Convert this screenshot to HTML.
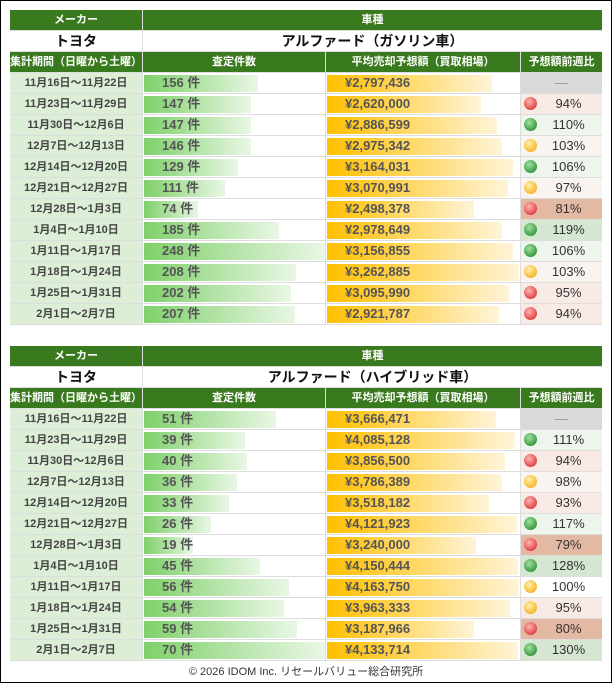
<!DOCTYPE html>
<html><head><meta charset="utf-8"><style>
*{margin:0;padding:0;box-sizing:border-box}
body{width:612px;height:683px;background:#fff;font-family:"Liberation Sans","Noto Sans CJK JP",sans-serif;position:relative;overflow:hidden}
.frame{position:absolute;left:0;top:0;width:612px;height:683px;border:1px solid #000}
.t{position:absolute;left:10px;width:592px;background:#ddd}
.r{display:grid;grid-template-columns:132px 182px 194px 81px;column-gap:1px;height:21px;margin-bottom:0;border-bottom:1px solid #ddd}
.r>div{height:20px;position:relative;font-size:12px;font-weight:bold;line-height:20px;color:#444}
.h>div{background:#3a7a1e;color:#fff;text-align:center;font-size:11px}
.h1{grid-template-columns:132px 459px}
.ti{grid-template-columns:132px 459px}
.ti>div{background:#fff;color:#111;text-align:center;font-size:14px}
.d{background:#dcefd6;text-align:center;font-size:11px!important}
.c,.p{background:#fff}
.c i{position:absolute;left:1px;top:2px;height:17px;background:linear-gradient(90deg,#7fd06a,#e9f7e5)}
.p i{position:absolute;left:1px;top:2px;height:17px;background:linear-gradient(90deg,#ffbf00,#fff4d8)}
.c span,.p span{position:relative;padding-left:19px;font-size:13px;color:#555}
.v{text-align:center;font-weight:normal!important;font-size:13px!important;color:#333!important}
.v b{position:absolute;left:3px;top:3px;width:13px;height:13px;border-radius:50%}
.v em{font-style:normal;padding-left:14px}
.R{background:radial-gradient(circle at 40% 35%,#ffb3b3,#e04848 70%,#b02c2c)}
.G{background:radial-gradient(circle at 40% 35%,#9fe0a0,#3d9c44 70%,#2a6e2f)}
.Y{background:radial-gradient(circle at 40% 35%,#fff0b0,#f7b92c 70%,#d08d10)}
.br{background:#f8ebe5}.bR{background:#e4b9a3}.by{background:#faf4f0}.bg{background:#eef5ec}.bG{background:#d5e6d1}.bw{background:#fff}.bn{background:#d9d9d9;color:#999!important}
.foot{position:absolute;top:663px;left:0;width:612px;text-align:center;font-size:11px;color:#333}
</style></head><body>
<div class="frame"></div>

<div class="t" style="top:10px">
<div class="r h h1"><div>メーカー</div><div>車種</div></div>
<div class="r ti"><div>トヨタ</div><div>アルファード（ガソリン車）</div></div>
<div class="r h"><div>集計期間（日曜から土曜）</div><div>査定件数</div><div>平均売却予想額（買取相場）</div><div>予想額前週比</div></div>
<div class="r"><div class="d">11月16日～11月22日</div><div class="c"><i style="width:114px"></i><span>156 件</span></div><div class="p"><i style="width:165px"></i><span>¥2,797,436</span></div><div class="v bn">—</div></div>
<div class="r"><div class="d">11月23日～11月29日</div><div class="c"><i style="width:107px"></i><span>147 件</span></div><div class="p"><i style="width:154px"></i><span>¥2,620,000</span></div><div class="v br"><b class="R"></b><em>94%</em></div></div>
<div class="r"><div class="d">11月30日～12月6日</div><div class="c"><i style="width:107px"></i><span>147 件</span></div><div class="p"><i style="width:170px"></i><span>¥2,886,599</span></div><div class="v bg"><b class="G"></b><em>110%</em></div></div>
<div class="r"><div class="d">12月7日～12月13日</div><div class="c"><i style="width:107px"></i><span>146 件</span></div><div class="p"><i style="width:175px"></i><span>¥2,975,342</span></div><div class="v by"><b class="Y"></b><em>103%</em></div></div>
<div class="r"><div class="d">12月14日～12月20日</div><div class="c"><i style="width:94px"></i><span>129 件</span></div><div class="p"><i style="width:186px"></i><span>¥3,164,031</span></div><div class="v bg"><b class="G"></b><em>106%</em></div></div>
<div class="r"><div class="d">12月21日～12月27日</div><div class="c"><i style="width:81px"></i><span>111 件</span></div><div class="p"><i style="width:181px"></i><span>¥3,070,991</span></div><div class="v by"><b class="Y"></b><em>97%</em></div></div>
<div class="r"><div class="d">12月28日～1月3日</div><div class="c"><i style="width:54px"></i><span>74 件</span></div><div class="p"><i style="width:147px"></i><span>¥2,498,378</span></div><div class="v bR"><b class="R"></b><em>81%</em></div></div>
<div class="r"><div class="d">1月4日～1月10日</div><div class="c"><i style="width:135px"></i><span>185 件</span></div><div class="p"><i style="width:175px"></i><span>¥2,978,649</span></div><div class="v bG"><b class="G"></b><em>119%</em></div></div>
<div class="r"><div class="d">1月11日～1月17日</div><div class="c"><i style="width:181px"></i><span>248 件</span></div><div class="p"><i style="width:186px"></i><span>¥3,156,855</span></div><div class="v bg"><b class="G"></b><em>106%</em></div></div>
<div class="r"><div class="d">1月18日～1月24日</div><div class="c"><i style="width:152px"></i><span>208 件</span></div><div class="p"><i style="width:192px"></i><span>¥3,262,885</span></div><div class="v by"><b class="Y"></b><em>103%</em></div></div>
<div class="r"><div class="d">1月25日～1月31日</div><div class="c"><i style="width:147px"></i><span>202 件</span></div><div class="p"><i style="width:182px"></i><span>¥3,095,990</span></div><div class="v br"><b class="R"></b><em>95%</em></div></div>
<div class="r"><div class="d">2月1日～2月7日</div><div class="c"><i style="width:151px"></i><span>207 件</span></div><div class="p"><i style="width:172px"></i><span>¥2,921,787</span></div><div class="v br"><b class="R"></b><em>94%</em></div></div>
</div>

<div class="t" style="top:346px">
<div class="r h h1"><div>メーカー</div><div>車種</div></div>
<div class="r ti"><div>トヨタ</div><div>アルファード（ハイブリッド車）</div></div>
<div class="r h"><div>集計期間（日曜から土曜）</div><div>査定件数</div><div>平均売却予想額（買取相場）</div><div>予想額前週比</div></div>
<div class="r"><div class="d">11月16日～11月22日</div><div class="c"><i style="width:132px"></i><span>51 件</span></div><div class="p"><i style="width:169px"></i><span>¥3,666,471</span></div><div class="v bn">—</div></div>
<div class="r"><div class="d">11月23日～11月29日</div><div class="c"><i style="width:101px"></i><span>39 件</span></div><div class="p"><i style="width:188px"></i><span>¥4,085,128</span></div><div class="v bg"><b class="G"></b><em>111%</em></div></div>
<div class="r"><div class="d">11月30日～12月6日</div><div class="c"><i style="width:103px"></i><span>40 件</span></div><div class="p"><i style="width:178px"></i><span>¥3,856,500</span></div><div class="v br"><b class="R"></b><em>94%</em></div></div>
<div class="r"><div class="d">12月7日～12月13日</div><div class="c"><i style="width:93px"></i><span>36 件</span></div><div class="p"><i style="width:175px"></i><span>¥3,786,389</span></div><div class="v by"><b class="Y"></b><em>98%</em></div></div>
<div class="r"><div class="d">12月14日～12月20日</div><div class="c"><i style="width:85px"></i><span>33 件</span></div><div class="p"><i style="width:162px"></i><span>¥3,518,182</span></div><div class="v br"><b class="R"></b><em>93%</em></div></div>
<div class="r"><div class="d">12月21日～12月27日</div><div class="c"><i style="width:67px"></i><span>26 件</span></div><div class="p"><i style="width:190px"></i><span>¥4,121,923</span></div><div class="v bg"><b class="G"></b><em>117%</em></div></div>
<div class="r"><div class="d">12月28日～1月3日</div><div class="c"><i style="width:49px"></i><span>19 件</span></div><div class="p"><i style="width:149px"></i><span>¥3,240,000</span></div><div class="v bR"><b class="R"></b><em>79%</em></div></div>
<div class="r"><div class="d">1月4日～1月10日</div><div class="c"><i style="width:116px"></i><span>45 件</span></div><div class="p"><i style="width:191px"></i><span>¥4,150,444</span></div><div class="v bG"><b class="G"></b><em>128%</em></div></div>
<div class="r"><div class="d">1月11日～1月17日</div><div class="c"><i style="width:145px"></i><span>56 件</span></div><div class="p"><i style="width:192px"></i><span>¥4,163,750</span></div><div class="v bw"><b class="Y"></b><em>100%</em></div></div>
<div class="r"><div class="d">1月18日～1月24日</div><div class="c"><i style="width:140px"></i><span>54 件</span></div><div class="p"><i style="width:183px"></i><span>¥3,963,333</span></div><div class="v br"><b class="Y"></b><em>95%</em></div></div>
<div class="r"><div class="d">1月25日～1月31日</div><div class="c"><i style="width:153px"></i><span>59 件</span></div><div class="p"><i style="width:147px"></i><span>¥3,187,966</span></div><div class="v bR"><b class="R"></b><em>80%</em></div></div>
<div class="r"><div class="d">2月1日～2月7日</div><div class="c"><i style="width:181px"></i><span>70 件</span></div><div class="p"><i style="width:191px"></i><span>¥4,133,714</span></div><div class="v bG"><b class="G"></b><em>130%</em></div></div>
</div>

<div class="foot">© 2026 IDOM Inc. リセールバリュー総合研究所</div>
</body></html>
